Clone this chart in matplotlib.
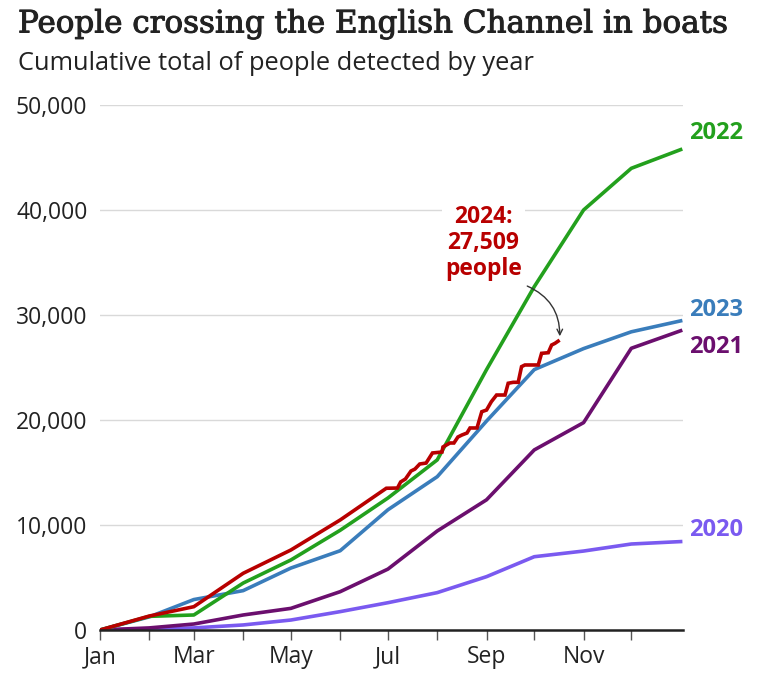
import matplotlib
matplotlib.use("Agg")
import matplotlib.pyplot as plt
import matplotlib.patheffects as pe
import numpy as np
from matplotlib.ticker import FuncFormatter

# day of year at the start of each month (last entry = end of year)
month_days = [0, 31, 59, 90, 120, 151, 181, 212, 243, 273, 304, 334, 365]
month_names = ["Jan", "Feb", "Mar", "Apr", "May", "Jun",
               "Jul", "Aug", "Sep", "Oct", "Nov", "Dec"]

# cumulative totals at the end of each month (monthly series)
y2020 = [0, 100, 200, 480, 950, 1750, 2600, 3560, 5080, 6980, 7520, 8190, 8420]
y2021 = [0, 200, 570, 1430, 2060, 3650, 5800, 9430, 12400, 17150, 19750, 26830, 28500]
y2022 = [0, 1300, 1430, 4470, 6670, 9500, 12570, 16200, 24800, 32700, 40000, 43970, 45750]
y2023 = [0, 1250, 2900, 3750, 5900, 7550, 11450, 14600, 19900, 24800, 26800, 28400, 29440]

# 2024: monthly to end of June, then daily-ish running total
days2024 = [0, 31, 59, 90, 120, 151, 180, 187, 189, 192, 195.5, 198, 201, 205, 209,
            215, 215.6, 220, 222.5, 225, 227.5, 230.7, 232.6, 237, 240, 243, 246,
            249.3, 254.6, 256.6, 259.8, 262.9, 265, 267.1, 275.5, 277.6, 281.8,
            283.9, 286, 288]
y2024 = [0, 1330, 2220, 5400, 7620, 10480, 13500, 13520, 14100, 14380, 15140, 15330,
         15810, 15900, 16860, 16950, 17430, 17810, 17810, 18380, 18570, 18760, 19240,
         19240, 20790, 20950, 21740, 22380, 22380, 23500, 23590, 23590, 25080, 25240,
         25240, 26350, 26410, 27140, 27300, 27509]

c2020 = "#7a5af0"
c2021 = "#6b0f6e"
c2022 = "#23a01d"
c2023 = "#3a7dbb"
c2024 = "#b80000"

sans = ["Open Sans", "DejaVu Sans"]

fig = plt.figure(figsize=(7.7, 6.78), dpi=100)
ax = fig.add_axes([100 / 770, 1 - 630 / 678, 583 / 770, 525 / 678])

lw = 2.6
ax.plot(month_days, y2020, color=c2020, lw=lw, solid_joinstyle="round")
ax.plot(month_days, y2021, color=c2021, lw=lw, solid_joinstyle="round")
ax.plot(month_days, y2023, color=c2023, lw=lw, solid_joinstyle="round")
ax.plot(month_days, y2022, color=c2022, lw=lw, solid_joinstyle="round")
ax.plot(days2024, y2024, color=c2024, lw=lw, solid_joinstyle="miter")

ax.set_xlim(0, 366.5)
ax.set_ylim(0, 50000)

ax.set_yticks(range(0, 50001, 10000))
ax.yaxis.set_major_formatter(FuncFormatter(lambda v, p: f"{int(v):,}"))
ax.grid(axis="y", color="#d9d9d9", lw=1)
ax.set_axisbelow(True)

ax.set_xticks(month_days[:12])
ax.set_xticklabels([m if i % 2 == 0 else "" for i, m in enumerate(month_names)])

for s in ["top", "right", "left"]:
    ax.spines[s].set_visible(False)
ax.spines["bottom"].set_color("#222222")
ax.spines["bottom"].set_linewidth(1.8)
ax.spines["bottom"].set_zorder(5)

ax.tick_params(axis="x", length=7, width=1, color="#555555", pad=4,
               labelsize=16.5, labelcolor="#222222")
ax.tick_params(axis="y", length=0, pad=9, labelsize=16.5, labelcolor="#222222")
for lab in ax.get_xticklabels() + ax.get_yticklabels():
    lab.set_family(sans)

# year labels at the right
lab_kw = dict(fontsize=17, fontweight="bold", family=sans, va="center",
              ha="left", clip_on=False)
ax.text(370, 47330, "2022", color=c2022, **lab_kw)
ax.text(370, 30480, "2023", color=c2023, **lab_kw)
ax.text(370, 26950, "2021", color=c2021, **lab_kw)
ax.text(370, 9520, "2020", color=c2020, **lab_kw)

# 2024 annotation
ax.text(241, 36860, "2024:\n27,509\npeople", color=c2024, fontsize=16.5,
        fontweight="bold", family=sans, ha="center", va="center",
        linespacing=1.12,
        bbox=dict(facecolor="white", edgecolor="none", pad=2))
ax.annotate("", xy=(days2024[-1] + 1, y2024[-1] + 200), xytext=(267, 32860),
            arrowprops=dict(arrowstyle="->", color="#333333", lw=1,
                            connectionstyle="arc3,rad=-0.35"))

fig.text(18 / 770, 1 - 24 / 678, "People crossing the English Channel in boats",
         fontsize=22.3, family="DejaVu Serif", color="#222222", va="center",
         ha="left",
         path_effects=[pe.withStroke(linewidth=0.7, foreground="#222222")])
fig.text(18 / 770, 1 - 64 / 678, "Cumulative total of people detected by year",
         fontsize=18.3, family=sans, color="#222222", va="center", ha="left")

fig.savefig("out.png", dpi=100)
